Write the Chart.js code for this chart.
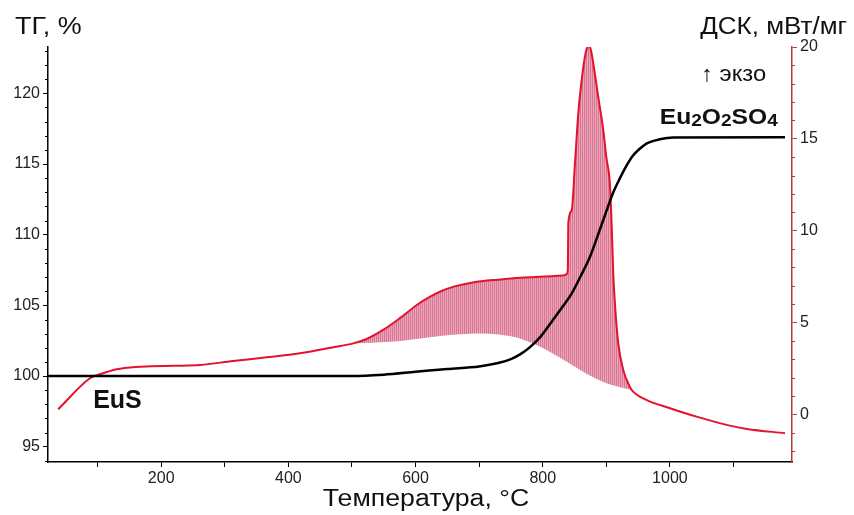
<!DOCTYPE html>
<html>
<head>
<meta charset="utf-8">
<script src="https://cdn.jsdelivr.net/npm/chart.js@4.4.0/dist/chart.umd.min.js"></script>
<style>
  html, body { margin: 0; padding: 0; background: #fff; }
</style>
</head>
<body>
<canvas id="chart" width="854" height="515"></canvas>
<script>
// TG curve (black, left axis)
const tgTemp = [22, 500, 550, 600, 650, 700, 730, 750, 765, 780, 796, 815, 832, 845, 860, 874, 887, 900, 911, 921.5, 932, 942, 953, 963, 984, 1005, 1181];
const tgValues = [100, 100, 100.1, 100.3, 100.5, 100.68, 100.92, 101.2, 101.55, 102.05, 102.75, 103.9, 104.95, 105.8, 107.1, 108.4, 110.0, 111.65, 113.0, 114.0, 114.9, 115.6, 116.1, 116.45, 116.75, 116.88, 116.9];

// DSC curve (red, right axis)
const dscTemp = [38, 88, 104, 130, 160, 183, 220, 261, 313, 366, 418, 471, 502, 523, 549, 576, 602, 623, 640, 660, 690, 730, 780, 832, 837.5, 839.5, 840.2, 845.5, 850.7, 855.9, 861.2, 866, 869.1, 872.7, 876, 879.5, 887.3, 895.2, 900, 905.7, 908.4, 911, 914, 918.8, 926.6, 937, 940, 963, 1000, 1042, 1094, 1121, 1181];
const dscValues = [0.27, 1.96, 2.18, 2.45, 2.58, 2.61, 2.64, 2.68, 2.9, 3.1, 3.32, 3.65, 3.86, 4.1, 4.59, 5.25, 5.95, 6.4, 6.7, 6.95, 7.18, 7.33, 7.46, 7.55, 7.62, 7.9, 10.39, 11.1, 13.66, 16.38, 18.19, 19.4, 19.9, 20.09, 19.8, 19.1, 17.28, 15.47, 14.0, 12.5, 10.3, 7.6, 5.8, 3.86, 2.41, 1.5, 1.32, 0.78, 0.33, -0.13, -0.62, -0.8, -1.03];

// baseline under the exo peak (lower edge of the hatched area)
const baseTemp = [502, 560, 623, 660, 701, 730, 754, 780, 806, 832, 859, 880, 900, 920, 940];
const baseValues = [3.86, 3.95, 4.2, 4.33, 4.4, 4.35, 4.22, 3.92, 3.5, 2.98, 2.41, 2.0, 1.69, 1.48, 1.32];

// ticks
const tempTicks = [100, 200, 300, 400, 500, 600, 700, 800, 900, 1000, 1100];
const tgTicks = [95, 100, 105, 110, 115, 120];
const dscTicks = [0, 5, 10, 15, 20];

const toPoints = (xs, ys) => xs.map((t, i) => ({ x: t, y: ys[i] }));

const dscPoints = toPoints(dscTemp, dscValues);
const hatchPoints = dscPoints.filter(p => p.x >= baseTemp[0] && p.x <= baseTemp[baseTemp.length - 1]);

const FONT = "'Liberation Sans', Arial, sans-serif";
const AXIS_RED = '#b03a3e';

function hatchPattern() {
  const c = document.createElement('canvas');
  c.width = 2; c.height = 2;
  const g = c.getContext('2d');
  g.fillStyle = '#eda7ba';
  g.fillRect(0, 0, 2, 2);
  g.fillStyle = '#d77592';
  g.fillRect(0, 0, 1, 2);
  return g.createPattern(c, 'repeat');
}

// text drawn a little wider than the font, like the original figure
function wideText(ctx, s, x, y, stretch) {
  ctx.save();
  ctx.translate(x, y);
  ctx.scale(stretch, 1);
  ctx.fillText(s, 0, 0);
  ctx.restore();
}

const decorations = {
  id: 'decorations',
  afterDraw(chart) {
    const ctx = chart.ctx;
    const { x, yTG, yDSC } = chart.scales;
    ctx.save();

    // minor ticks on the value axes
    ctx.lineWidth = 1;
    ctx.strokeStyle = '#000';
    for (let v = Math.ceil(yTG.min); v <= yTG.max; v++) {
      if (tgTicks.includes(v)) continue;
      const py = Math.round(yTG.getPixelForValue(v)) + 0.5;
      ctx.beginPath(); ctx.moveTo(yTG.right - 3, py); ctx.lineTo(yTG.right, py); ctx.stroke();
    }
    ctx.strokeStyle = AXIS_RED;
    for (let v = Math.ceil(yDSC.min); v <= yDSC.max; v++) {
      if (dscTicks.includes(v)) continue;
      const py = Math.round(yDSC.getPixelForValue(v)) + 0.5;
      ctx.beginPath(); ctx.moveTo(yDSC.left, py); ctx.lineTo(yDSC.left + 3, py); ctx.stroke();
    }

    // axis titles
    ctx.fillStyle = '#111';
    ctx.textBaseline = 'middle';
    ctx.font = '23px ' + FONT;
    ctx.textAlign = 'left';
    wideText(ctx, 'ТГ, %', 15, 28, 1.17);
    ctx.textAlign = 'right';
    wideText(ctx, 'ДСК, мВт/мг', 847, 28, 1.13);
    ctx.textAlign = 'center';
    wideText(ctx, 'Температура, °C', 426, 500, 1.16);

    // annotations
    ctx.textAlign = 'left';
    ctx.font = '22px ' + FONT;
    wideText(ctx, '↑ экзо', x.getPixelForValue(1049), yDSC.getPixelForValue(18.5), 1.08);

    ctx.font = 'bold 25px ' + FONT;
    ctx.fillText('EuS', x.getPixelForValue(93), yTG.getPixelForValue(98.2));

    // Eu2O2SO4 with subscripts
    const parts = [['Eu', 0], ['2', 1], ['O', 0], ['2', 1], ['SO', 0], ['4', 1]];
    const stretch = 1.12;
    let px = x.getPixelForValue(984);
    const base = yTG.getPixelForValue(117.85);
    ctx.textBaseline = 'alphabetic';
    for (const [s, sub] of parts) {
      ctx.font = sub ? 'bold 17px ' + FONT : 'bold 22px ' + FONT;
      wideText(ctx, s, px, base + (sub ? 2 : 0), stretch);
      px += ctx.measureText(s).width * stretch;
    }
    ctx.restore();
  }
};

new Chart(document.getElementById('chart'), {
  type: 'line',
  data: {
    datasets: [
      {
        label: 'ТГ',
        data: toPoints(tgTemp, tgValues),
        yAxisID: 'yTG',
        borderColor: '#000',
        borderWidth: 2.5,
        pointRadius: 0,
        cubicInterpolationMode: 'monotone',
        fill: false
      },
      {
        label: 'ДСК',
        data: dscPoints,
        yAxisID: 'yDSC',
        borderColor: '#e3122d',
        borderWidth: 2,
        pointRadius: 0,
        cubicInterpolationMode: 'monotone',
        fill: false
      },
      {
        label: 'peak',
        data: hatchPoints,
        yAxisID: 'yDSC',
        borderWidth: 0,
        borderColor: 'rgba(0,0,0,0)',
        pointRadius: 0,
        cubicInterpolationMode: 'monotone',
        backgroundColor: hatchPattern(),
        fill: '+1'
      },
      {
        label: 'baseline',
        data: toPoints(baseTemp, baseValues),
        yAxisID: 'yDSC',
        borderWidth: 0,
        borderColor: 'rgba(0,0,0,0)',
        pointRadius: 0,
        cubicInterpolationMode: 'monotone',
        fill: false
      }
    ]
  },
  options: {
    responsive: false,
    animation: false,
    layout: { padding: { top: 47, left: 0, right: 0, bottom: 0 } },
    plugins: {
      legend: { display: false },
      tooltip: { enabled: false }
    },
    scales: {
      x: {
        type: 'linear',
        min: 22,
        max: 1192,
        afterFit: s => { s.height = 53; },
        afterBuildTicks: s => { s.ticks = tempTicks.map(v => ({ value: v })); },
        border: { display: true, color: '#000', width: 1.5 },
        grid: { drawOnChartArea: false, drawTicks: true, tickLength: 5, color: '#000' },
        ticks: {
          autoSkip: false,
          maxRotation: 0,
          padding: 2,
          color: '#222',
          font: { family: FONT, size: 16 },
          callback: v => (v % 200 === 0 ? v : '')
        }
      },
      yTG: {
        type: 'linear',
        position: 'left',
        min: 93.92,
        max: 123.28,
        afterFit: s => { s.width = 48; },
        afterBuildTicks: s => { s.ticks = tgTicks.map(v => ({ value: v })); },
        border: { display: true, color: '#000', width: 1.5 },
        grid: { drawOnChartArea: false, drawTicks: true, tickLength: 5, color: '#000' },
        ticks: {
          padding: 3,
          color: '#222',
          font: { family: FONT, size: 16 }
        }
      },
      yDSC: {
        type: 'linear',
        position: 'right',
        min: -2.6,
        max: 20,
        afterFit: s => { s.width = 62; },
        afterBuildTicks: s => { s.ticks = dscTicks.map(v => ({ value: v })); },
        border: { display: true, color: AXIS_RED, width: 1.5 },
        grid: { drawOnChartArea: false, drawTicks: true, tickLength: 5, color: AXIS_RED },
        ticks: {
          padding: 3,
          color: '#222',
          font: { family: FONT, size: 16 }
        }
      }
    }
  },
  plugins: [decorations]
});
</script>
</body>
</html>
